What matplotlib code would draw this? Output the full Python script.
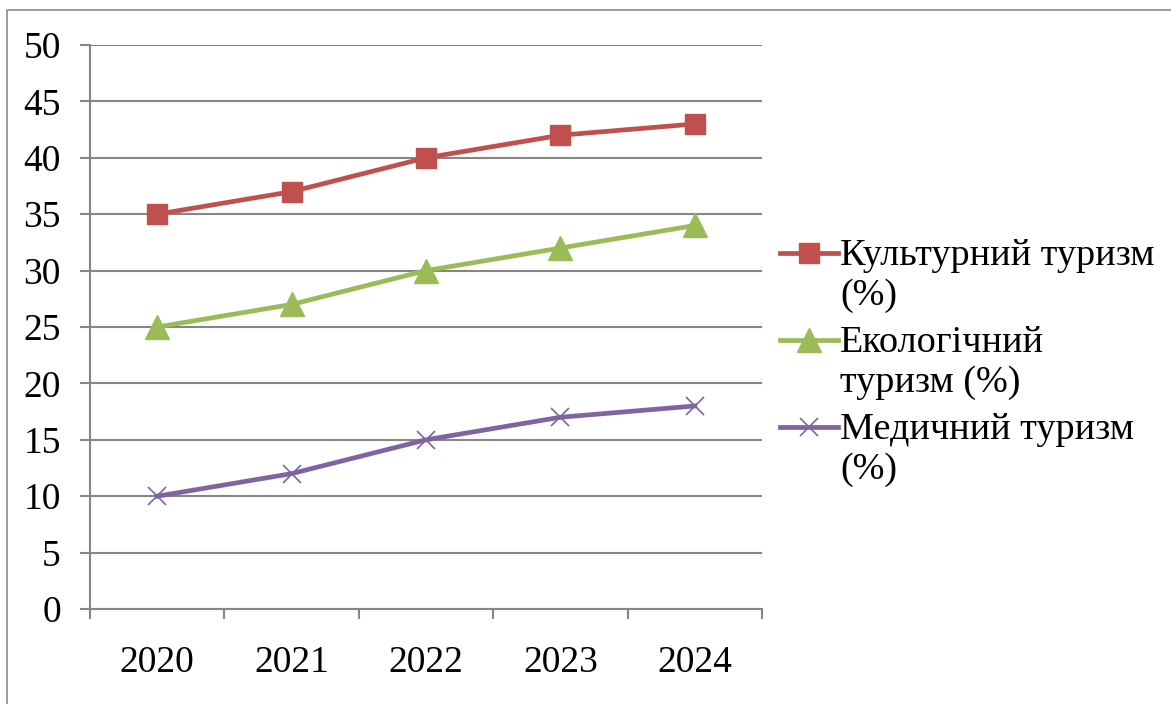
import matplotlib
matplotlib.use("Agg")
import matplotlib.pyplot as plt
from matplotlib.patches import Rectangle
from matplotlib.lines import Line2D
import numpy as np

years = ["2020", "2021", "2022", "2023", "2024"]
cultural = [35, 37, 40, 42, 43]
eco = [25, 27, 30, 32, 34]
medical = [10, 12, 15, 17, 18]
labels = ["Культурний туризм\n(%)", "Екологічний\nтуризм (%)", "Медичний туризм\n(%)"]

plt.rcParams['font.family'] = ['Liberation Serif', 'DejaVu Serif']

W, H = 1171, 704
fig = plt.figure(figsize=(W / 100, H / 100), dpi=100)
ax = fig.add_axes([90 / W, 1 - 609 / H, 672 / W, 564 / H])

# outer chart border
fig.patches.append(Rectangle((7 / W, -0.01), 1.2, 1 - 10 / H + 0.01, transform=fig.transFigure,
                             fill=False, edgecolor='#8c8c8c', linewidth=1.2))

styles = [
    dict(color='#C0504D', marker='s', ms=15),
    dict(color='#9BBB59', marker='^', ms=17),
    dict(color='#8064A2', marker='x', ms=13, mew=1.2),
]

x = np.arange(len(years))
for vals, st in zip([cultural, eco, medical], styles):
    ax.plot(x, vals, lw=3.4, zorder=3, **st)

ax.set_xlim(-0.5, len(years) - 0.5)
ax.set_ylim(0, 50)
ax.set_yticks(range(0, 51, 5))
ax.set_xticks(x)
ax.set_xticklabels(years)
ax.set_xticks(np.arange(-0.5, len(years)), minor=True)
ax.yaxis.grid(True, color='#868686', lw=1.5)
ax.set_axisbelow(True)

for s in ['top', 'right']:
    ax.spines[s].set_visible(False)
for s in ['left', 'bottom']:
    ax.spines[s].set_color('#868686')
    ax.spines[s].set_linewidth(1.5)

ax.tick_params(axis='y', length=7, width=1.5, color='#868686', labelsize=27, pad=14)
ax.tick_params(axis='x', which='major', length=0, labelsize=27, pad=26)
ax.tick_params(axis='x', which='minor', length=7, width=1.5, color='#868686')

# legend drawn by hand: handle sits on the first line of each label
row_y = [253, 340, 427]
for lab, st, yy in zip(labels, styles, row_y):
    fy = 1 - yy / H
    fig.add_artist(Line2D([780 / W, 838 / W], [fy, fy], lw=3.4, transform=fig.transFigure,
                          color=st['color']))
    fig.add_artist(Line2D([809 / W], [fy], lw=0, transform=fig.transFigure, **st))
    fig.text(840 / W, 1 - (yy + 23) / H, lab, fontsize=27.5, va='center', ha='left',
             linespacing=1.2)

fig.savefig("out.png", dpi=100)
